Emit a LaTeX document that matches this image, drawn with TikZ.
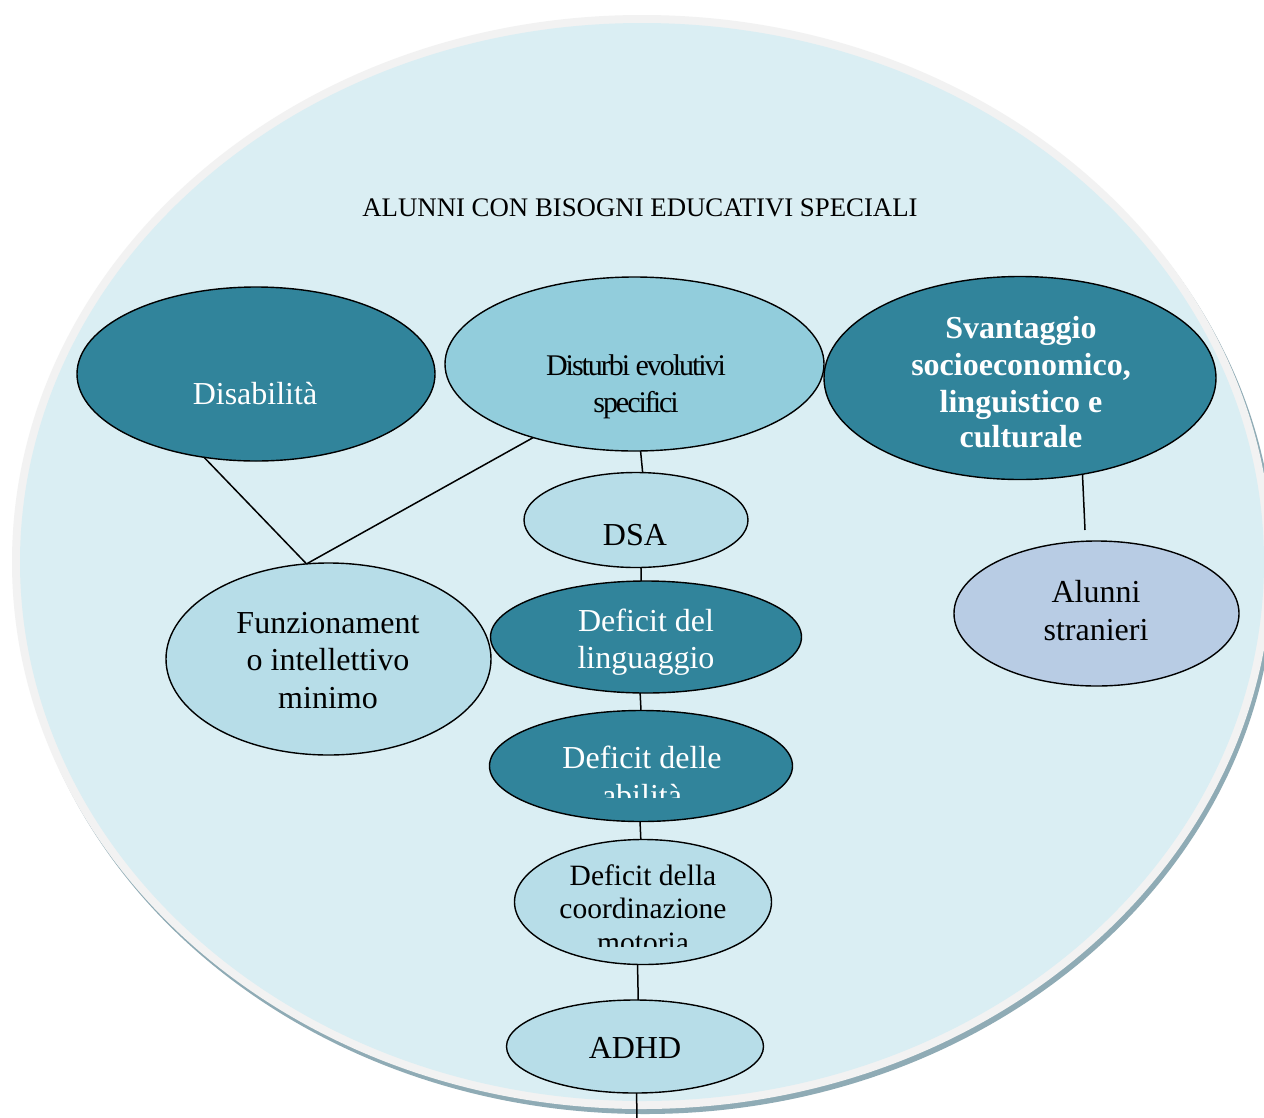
\documentclass[tikz,border=0pt]{standalone}
\usepackage{fontspec}
\setmainfont{Liberation Serif}
\newfontfamily\condfont[LetterSpace=-6.8]{Liberation Serif}
\usetikzlibrary{shapes.geometric}
\definecolor{tealdark}{HTML}{31849B}
\definecolor{tealmid}{HTML}{92CDDC}
\definecolor{teallight}{HTML}{B7DDE8}
\definecolor{bgblue}{HTML}{DAEEF3}
\definecolor{lavblue}{HTML}{B8CCE4}
\definecolor{ringgray}{HTML}{F2F2F2}
\definecolor{shadowblue}{HTML}{8FABB5}
\begin{document}
\begin{tikzpicture}[x=1pt,y=-1pt,
  bubble/.style={ellipse, draw=black, line width=1.4pt, inner sep=0pt, outer sep=0pt},
  darkb/.style={bubble, fill=tealdark},
  midb/.style={bubble, fill=tealmid},
  lightb/.style={bubble, fill=teallight},
  lavb/.style={bubble, fill=lavblue},
  lbl/.style={anchor=base, inner sep=0pt, font=\fontsize{32}{37}\selectfont},
  wlbl/.style={lbl, text=white},
  link/.style={line width=1.5pt, draw=black}]
\useasboundingbox (0,0) rectangle (1264,1117);
\fill[white] (0,0) rectangle (1264,1117);
\begin{scope}
\clip (0,0) rectangle (1264,1117);
% big background ellipse
\fill[shadowblue] (645,567) ellipse [x radius=630, y radius=547];
\fill[ringgray] (642,562) ellipse [x radius=630, y radius=547];
\fill[bgblue] (642,562) ellipse [x radius=622, y radius=539];

\node[lbl, font=\fontsize{26.8}{30}\selectfont] (title) at (640,216) {ALUNNI CON BISOGNI EDUCATIVI SPECIALI};

% ellipses
\node[darkb, minimum width=358pt, minimum height=174pt] (dis) at (256,374) {};
\node[midb, minimum width=379pt, minimum height=174pt] (des) at (634.5,364) {};
\node[darkb, minimum width=392pt, minimum height=203pt] (sv) at (1020,378) {};
\node[lightb, minimum width=224pt, minimum height=95pt] (dsa) at (636,520) {};
\node[darkb, minimum width=311pt, minimum height=112pt] (ddl) at (646,637) {};
\node[darkb, minimum width=303pt, minimum height=111pt] (dda) at (641,766) {};
\node[lightb, minimum width=257pt, minimum height=125pt] (dcm) at (643,902) {};
\node[lightb, minimum width=257pt, minimum height=93pt] (adhd) at (635,1046.5) {};
\node[lightb, minimum width=325pt, minimum height=192pt] (fun) at (328.5,659) {};
\node[lavb, minimum width=285pt, minimum height=145pt] (alu) at (1096.5,613.5) {};

% connectors
\coordinate (svend) at (1085,530);
\coordinate (adend) at (637,1125);
\draw[link] (dis.238.6) -- (fun.103.5);
\draw[link] (des.216.8) -- (fun.103.5);
\draw[link] (sv.303) -- (svend);
\draw[link] (des.274.9) -- (dsa.82.7);
\draw[link] (dsa.276) -- (ddl.95.1);
\draw[link] (ddl.264.9) -- (dda.90);
\draw[link] (dda.269) -- (dcm.92.8);
\draw[link] (dcm.265.5) -- (adhd.86.3);
\draw[link] (adhd.272.5) -- (adend);

% texts
\node[wlbl] (dis-t) at (255,404) {Disabilità};
\node[lbl, font=\fontsize{30}{37}\condfont] (des-t1) at (636,375) {Disturbi evolutivi};
\node[lbl, font=\fontsize{30}{37}\condfont] (des-t2) at (636,412) {specifici};
\node[wlbl, font=\fontsize{32}{37}\bfseries] (sv-t1) at (1021,338) {Svantaggio};
\node[wlbl, font=\fontsize{32}{37}\bfseries] (sv-t2) at (1021,375) {socioeconomico,};
\node[wlbl, font=\fontsize{32}{37}\bfseries] (sv-t3) at (1021,412) {linguistico e};
\node[wlbl, font=\fontsize{32}{37}\bfseries] (sv-t4) at (1021,447) {culturale};
\node[lbl] (dsa-t) at (635,545) {DSA};
\node[wlbl] (ddl-t1) at (646,631) {Deficit del};
\node[wlbl] (ddl-t2) at (646,668) {linguaggio};
\node[wlbl] (dda-t1) at (642,768) {Deficit delle};
\begin{scope}
\clip (480,700) rectangle (800,797);
\node[wlbl] (dda-t2) at (642,806) {abilità};
\end{scope}
\node[lbl, font=\fontsize{29.5}{34}\selectfont] (dcm-t1) at (643,885) {Deficit della};
\node[lbl, font=\fontsize{29.5}{34}\selectfont] (dcm-t2) at (643,918) {coordinazione};
\begin{scope}
\clip (500,830) rectangle (790,946);
\node[lbl, font=\fontsize{29.5}{34}\selectfont] (dcm-t3) at (643,952) {motoria};
\end{scope}
\node[lbl] (adhd-t) at (635,1058) {ADHD};
\node[lbl] (fun-t1) at (328,633) {Funzionament};
\node[lbl] (fun-t2) at (328,670) {o intellettivo};
\node[lbl] (fun-t3) at (328,708) {minimo};
\node[lbl] (alu-t1) at (1096,602) {Alunni};
\node[lbl] (alu-t2) at (1096,640) {stranieri};
\end{scope}
\end{tikzpicture}
\end{document}
